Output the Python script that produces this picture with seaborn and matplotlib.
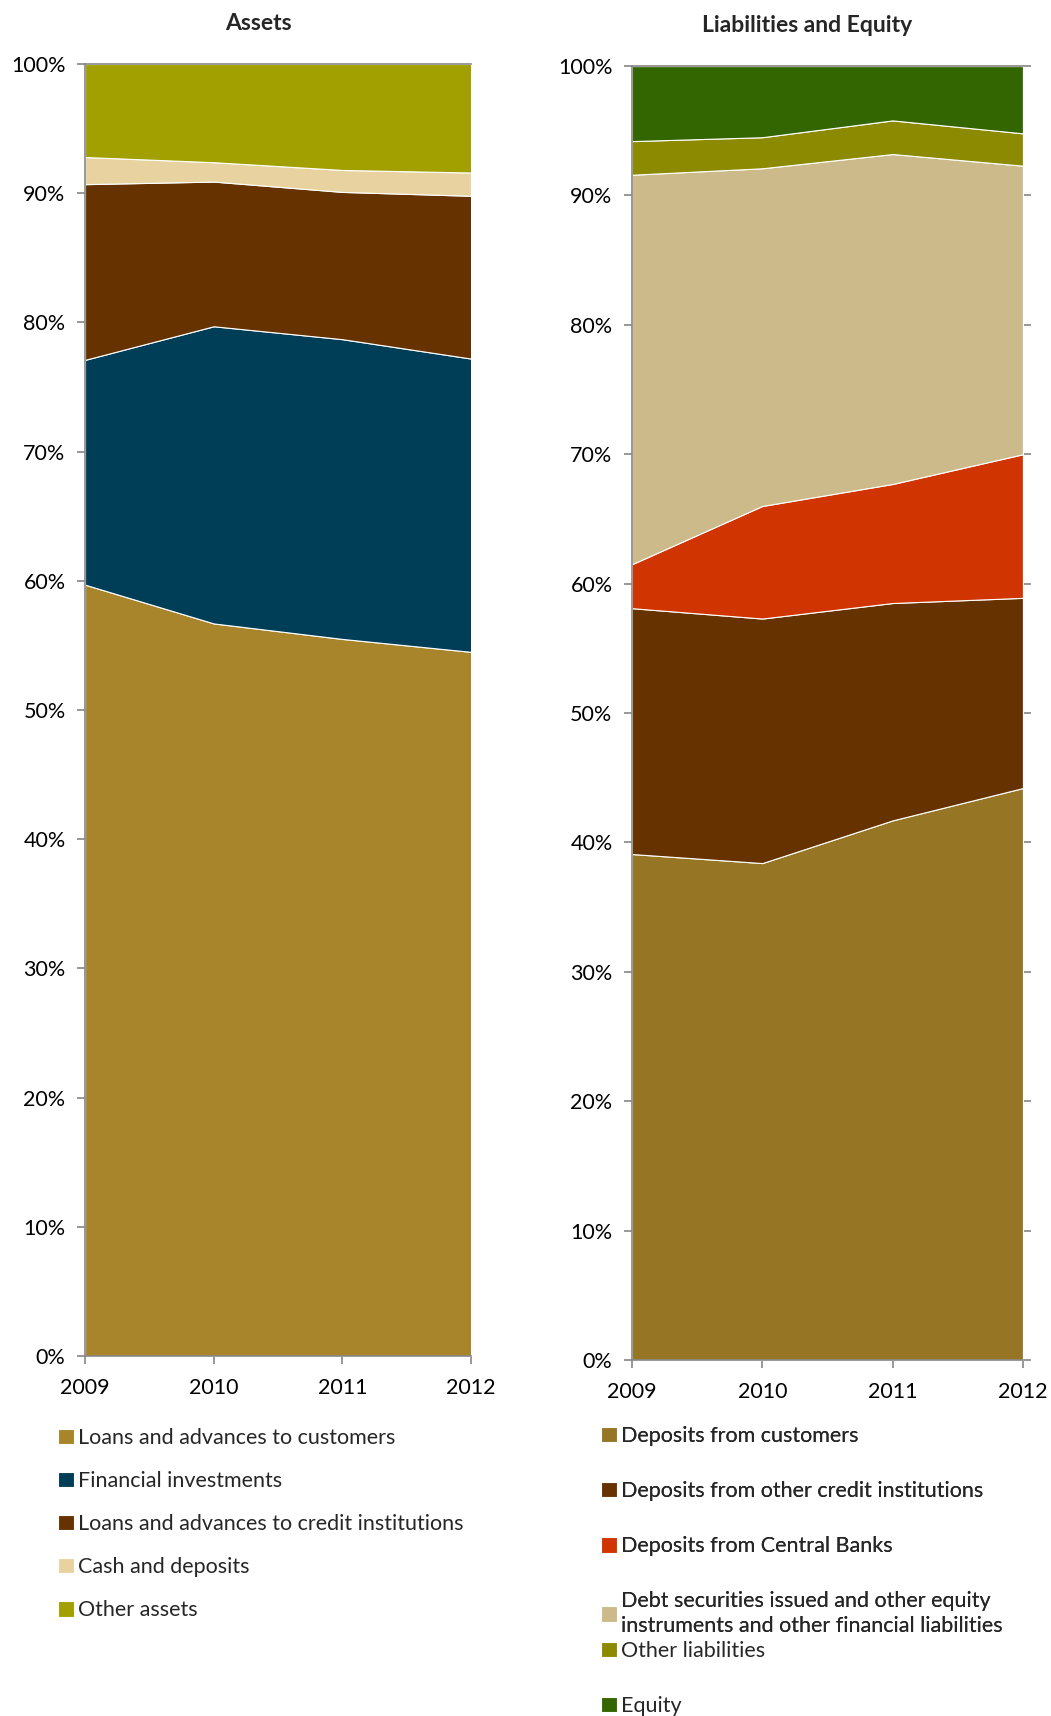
import numpy as np
import matplotlib
matplotlib.use("Agg")
import matplotlib.pyplot as plt
import seaborn as sns

# Datos (% del total)
years = [2009, 2010, 2011, 2012]

asset_labels = ["Loans and advances to customers", "Financial investments",
                "Loans and advances to credit institutions", "Cash and deposits",
                "Other assets"]
loans_customers = [59.7, 56.7, 55.5, 54.5]
financial_investments = [17.4, 23.0, 23.2, 22.7]
loans_credit_inst = [13.6, 11.2, 11.4, 12.6]
cash_deposits = [2.1, 1.5, 1.7, 1.8]
other_assets = [7.2, 7.6, 8.2, 8.4]
asset_colors = ["#A8852B", "#003E57", "#663300", "#E8D3A0", "#A29F00"]

liab_labels = ["Deposits from customers", "Deposits from other credit institutions",
               "Deposits from Central Banks",
               "Debt securities issued and other equity\ninstruments and other financial liabilities",
               "Other liabilities", "Equity"]
dep_customers = [39.1, 38.4, 41.7, 44.2]
dep_credit_inst = [19.0, 18.9, 16.8, 14.7]
dep_central_banks = [3.4, 8.7, 9.2, 11.1]
debt_securities = [30.1, 26.1, 25.5, 22.3]
other_liabilities = [2.6, 2.4, 2.6, 2.5]
equity = [5.8, 5.5, 4.2, 5.2]
liab_colors = ["#967625", "#663300", "#D03400", "#CDBA8B", "#8C8A00", "#336600"]

sns.set_theme(style="white")
plt.rcParams['font.family'] = ['Lato', 'DejaVu Sans']

fig = plt.figure(figsize=(10.51, 17.16), dpi=100)
ax1 = fig.add_axes([0.0809, 0.2098, 0.3673, 0.7529])
ax2 = fig.add_axes([0.6013, 0.2075, 0.3720, 0.7540])

grey = "#868686"
fs = 15.5


def estilo_ejes(ax, right_ticks=False):
    ax.set_xlim(years[0], years[-1])
    ax.set_ylim(0, 100)
    ax.set_xticks(years)
    ax.set_xticklabels([str(y) for y in years])
    ax.set_yticks(np.arange(0, 101, 10))
    ax.set_yticklabels([f"{v}%" for v in range(0, 101, 10)])
    for s in ["left", "bottom", "top"]:
        ax.spines[s].set_color(grey)
        ax.spines[s].set_linewidth(1.2)
    ax.spines["right"].set_visible(False)
    ax.tick_params(axis="y", length=6, width=1.2, color=grey, pad=8,
                   labelsize=fs, labelcolor="black", left=True, right=right_ticks)
    ax.tick_params(axis="x", length=6, width=1.2, color=grey, pad=10,
                   labelsize=fs, labelcolor="black", bottom=True)
    ax.grid(False)


polys1 = ax1.stackplot(years, loans_customers, financial_investments, loans_credit_inst,
                       cash_deposits, other_assets, colors=asset_colors,
                       edgecolor="white", linewidth=0.8)
estilo_ejes(ax1)

polys2 = ax2.stackplot(years, dep_customers, dep_credit_inst, dep_central_banks,
                       debt_securities, other_liabilities, equity, colors=liab_colors,
                       edgecolor="white", linewidth=0.8)
estilo_ejes(ax2, right_ticks=True)

fig.text(258 / 1051, 1 - 23 / 1716, "Assets", ha="center", va="center",
         fontsize=16.5, fontweight="bold")
fig.text(807 / 1051, 1 - 25 / 1716, "Liabilities and Equity", ha="center", va="center",
         fontsize=16.5, fontweight="bold")

leg_kw = dict(loc="upper left", frameon=False, fontsize=fs, borderpad=0,
              borderaxespad=0, handlelength=0.75, handleheight=0.75,
              handletextpad=0.2)

fig.legend(polys1, asset_labels, bbox_to_anchor=(58 / 1051, 1 - 1428 / 1716),
           labelspacing=1.07, **leg_kw)

leg_a = fig.legend(polys2[:4], liab_labels[:4], bbox_to_anchor=(601 / 1051, 1 - 1426 / 1716),
                   labelspacing=1.63, **leg_kw)
for t in leg_a.get_texts():
    t.set_linespacing(1.3)
fig.add_artist(leg_a)
fig.legend(polys2[4:], liab_labels[4:], bbox_to_anchor=(601 / 1051, 1 - 1641 / 1716),
           labelspacing=1.63, **leg_kw)

fig.savefig("out.png", dpi=100)
